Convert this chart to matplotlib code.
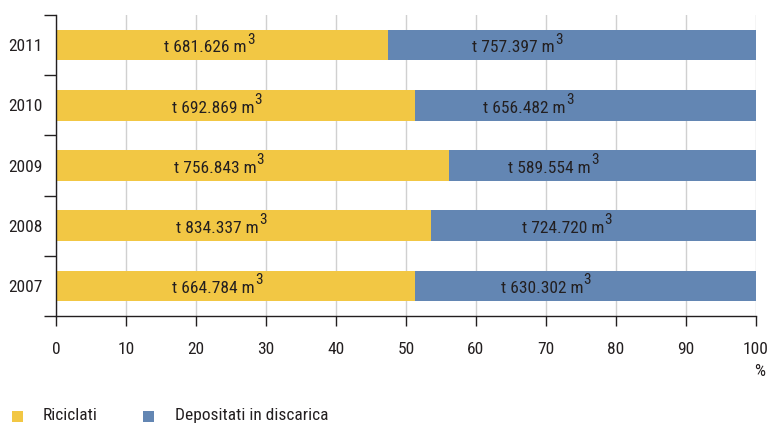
import matplotlib
matplotlib.use("Agg")
import matplotlib.pyplot as plt
from matplotlib.patches import Rectangle
import numpy as np

years = ["2007", "2008", "2009", "2010", "2011"]
riciclati = [664.784, 834.337, 756.843, 692.869, 681.626]
depositati = [630.302, 724.720, 589.554, 656.482, 757.397]
labels_ric = ["664.784", "834.337", "756.843", "692.869", "681.626"]
labels_dep = ["630.302", "724.720", "589.554", "656.482", "757.397"]
xticks = [0, 10, 20, 30, 40, 50, 60, 70, 80, 90, 100]
series_names = ["Riciclati", "Depositati in discarica"]

# label anchor positions (percent axis)
lab_x_ric = [22.5, 23.1, 22.7, 22.4, 21.3]
lab_x_dep = [69.4, 72.4, 70.5, 66.9, 65.4]

FONT = ["Roboto Condensed", "DejaVu Sans"]
plt.rcParams["font.family"] = FONT

YEL = "#F2C744"
BLU = "#6386B3"
TXT = "#231f20"
FS = 12.5

fig = plt.figure(figsize=(7.68, 4.23), dpi=100)
ax = fig.add_axes([56/768, 1-316/423, 700/768, 301/423])

ric = np.array(riciclati)
dep = np.array(depositati)
tot = ric + dep
pr = ric / tot * 100
pd_ = dep / tot * 100
y = np.arange(len(years))
h = 0.51
ax.barh(y, pr, height=h, color=YEL, zorder=2)
ax.barh(y, pd_, left=pr, height=h, color=BLU, zorder=2)

def label(x, yy, s):
    t = ax.text(x, yy - 0.12, "t " + s + " m", ha="center", va="baseline",
                fontsize=FS, color=TXT, zorder=3)
    ax.annotate("3", xy=(1, 1), xycoords=t, xytext=(0.3, 5.5), textcoords="offset points",
                ha="left", va="top", fontsize=FS*0.88, color=TXT, zorder=3)

for i in range(len(years)):
    label(lab_x_ric[i], y[i], labels_ric[i])
    label(lab_x_dep[i], y[i], labels_dep[i])

ax.set_xlim(0, 100)
ax.set_ylim(-0.5, len(years)-0.5)
ax.set_xticks(xticks)
ax.set_xticklabels([str(v) for v in xticks], fontsize=FS, color=TXT)
ax.set_yticks(y)
ax.set_yticklabels(years, fontsize=FS, color=TXT)
ax.set_yticks(np.arange(-0.5, len(years), 1.0), minor=True)
ax.tick_params(axis="y", which="major", length=0, pad=9.4)
ax.tick_params(axis="y", which="minor", length=8.6, width=1.0, color=TXT)
ax.tick_params(axis="x", which="major", length=7.2, width=1.0, color=TXT, pad=11.5)
ax.grid(axis="x", color="#d0d0d0", linewidth=1.0, zorder=0)
for s in ["top", "right"]:
    ax.spines[s].set_visible(False)
for s in ["left", "bottom"]:
    ax.spines[s].set_color(TXT)
    ax.spines[s].set_linewidth(1.0)
ax.set_axisbelow(True)

fig.text(760/768, 1-371/423, "%", ha="center", va="center", fontsize=FS, color=TXT)

# legend drawn in figure pixels
W, H = 768, 423
def fx(px): return px / W
def fy(py): return 1 - py / H
for (sx, tx), col, name in zip([(12, 43), (143, 175)], [YEL, BLU], series_names):
    fig.patches.append(Rectangle((fx(sx), fy(422)), 11/W, 11/H, transform=fig.transFigure,
                                 facecolor=col, edgecolor="none"))
    fig.text(fx(tx), fy(420), name, ha="left", va="baseline", fontsize=FS, color=TXT)

fig.savefig("out.png", dpi=100)
